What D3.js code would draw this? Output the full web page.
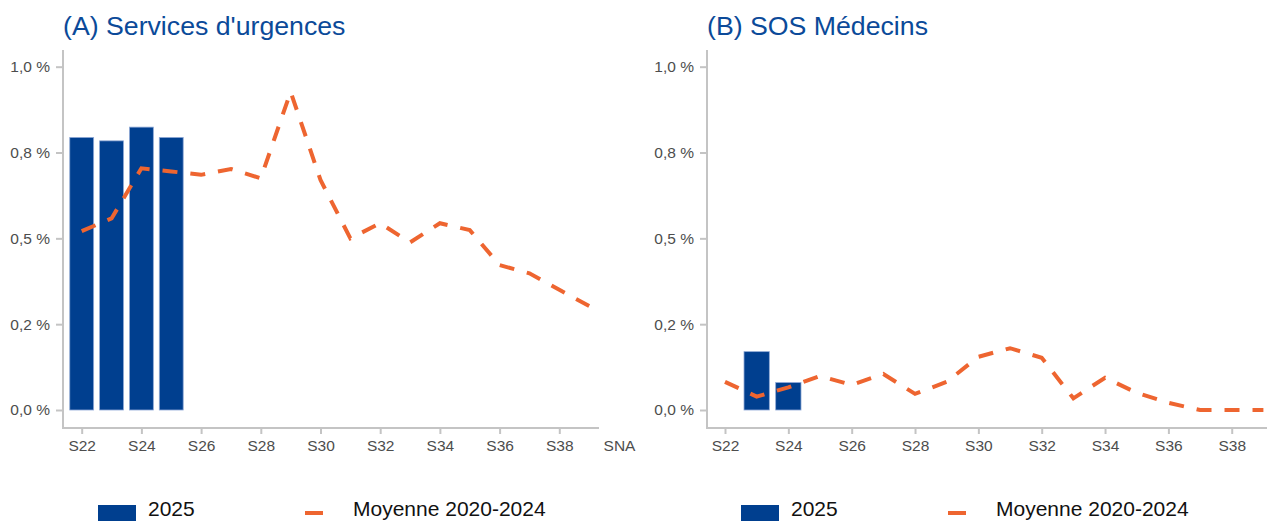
<!DOCTYPE html>
<html>
<head>
<meta charset="utf-8">
<script src="https://cdn.jsdelivr.net/npm/d3@7"></script>
<style>
  body { margin: 0; background: #fff; }
  svg { font-family: "Liberation Sans", Arial, sans-serif; }
</style>
</head>
<body>
<div id="chart"></div>
<script>
// weeks shown on the x axis
var weeks = ["S22","S23","S24","S25","S26","S27","S28","S29","S30",
             "S31","S32","S33","S34","S35","S36","S37","S38","S39"];
var weeksA = weeks.concat(["SNA"]);

// (A) Services d'urgences
var urgWeeks2025 = ["S22","S23","S24","S25"];
var urg2025 = [0.794, 0.784, 0.824, 0.794];
var urgMoyenne = [0.521, 0.558, 0.704, 0.695, 0.685, 0.702, 0.675, 0.927, 0.670,
                  0.500, 0.544, 0.488, 0.544, 0.524, 0.422, 0.398, 0.350, 0.303];

// (B) SOS Médecins
var sosWeeks2025 = ["S23","S24"];
var sos2025 = [0.170, 0.080];
var sosMoyenne = [0.082, 0.039, 0.066, 0.099, 0.073, 0.105, 0.047, 0.082, 0.155,
                  0.180, 0.152, 0.034, 0.094, 0.050, 0.021, 0.0, 0.0, 0.0];

var yTicks = [0, 0.25, 0.5, 0.75, 1];
var yTickLabels = ["0,0 %", "0,2 %", "0,5 %", "0,8 %", "1,0 %"];

var blue = "#003f8f";
var orange = "#ee6530";
var grey = "#c4c4c4";

var width = 1267, height = 521;
var svg = d3.select("#chart").append("svg")
    .attr("width", width)
    .attr("height", height);

var y = d3.scaleLinear().domain([0, 1]).range([410, 66.7]);

function drawPanel(p) {
  var g = svg.append("g");

  var x = d3.scalePoint()
      .domain(p.xDomain)
      .range(p.xRange);
  var step = x.step();

  // title
  g.append("text")
      .attr("x", p.axisX)
      .attr("y", 35)
      .attr("fill", "#0b4a99")
      .style("font-size", "26.7px")
      .text(p.title);

  // axis lines
  g.append("line")
      .attr("x1", p.axisX).attr("x2", p.axisX)
      .attr("y1", 50).attr("y2", 429)
      .attr("stroke", grey).attr("stroke-width", 2);
  g.append("line")
      .attr("x1", p.axisX - 1).attr("x2", p.axisEnd)
      .attr("y1", 428).attr("y2", 428)
      .attr("stroke", grey).attr("stroke-width", 2);

  // y axis
  var leftAxis = d3.axisLeft(y)
      .tickValues(yTicks)
      .tickFormat(function(d, i) { return yTickLabels[i]; })
      .tickSize(7)
      .tickPadding(6);
  var ya = g.append("g")
      .attr("transform", "translate(" + p.axisX + ",0)")
      .call(leftAxis);
  ya.select(".domain").remove();
  ya.selectAll("line").attr("stroke", grey).attr("stroke-width", 2);
  ya.selectAll("text")
      .attr("fill", "#4d4d4d")
      .style("font-size", "15.5px")
      .style("font-family", "Liberation Sans, Arial, sans-serif");

  // x axis
  var bottomAxis = d3.axisBottom(x)
      .tickValues(p.xDomain.filter(function(d, i) { return i % 2 === 0; }))
      .tickSize(6)
      .tickPadding(6);
  var xa = g.append("g")
      .attr("transform", "translate(0,428)")
      .call(bottomAxis);
  xa.select(".domain").remove();
  xa.selectAll("line").attr("stroke", grey).attr("stroke-width", 2);
  xa.selectAll(".tick")
      .filter(function(d) { return x(d) > p.axisEnd; })
      .select("line").remove();
  xa.selectAll("text")
      .attr("fill", "#4d4d4d")
      .style("font-size", "15.5px")
      .style("font-family", "Liberation Sans, Arial, sans-serif");

  // bars 2025
  var bw = step * 0.8;
  g.selectAll("rect.bar")
      .data(p.barWeeks)
      .enter()
      .append("rect")
      .attr("class", "bar")
      .attr("x", function(d) { return x(d) - bw / 2; })
      .attr("y", function(d, i) { return y(p.barValues[i]); })
      .attr("width", bw)
      .attr("height", function(d, i) { return y(0) - y(p.barValues[i]); })
      .attr("fill", blue)
      .attr("stroke", "#8fa9d6")
      .attr("stroke-width", 0.8);

  // moyenne line
  var line = d3.line()
      .x(function(d, i) { return x(weeks[i]); })
      .y(function(d) { return y(d); });
  g.append("path")
      .datum(p.lineValues)
      .attr("d", line)
      .attr("fill", "none")
      .attr("stroke", orange)
      .attr("stroke-width", 4)
      .attr("stroke-dasharray", "15,13");

  // legend
  var lx = p.legendX;
  g.append("rect")
      .attr("x", lx).attr("y", 505)
      .attr("width", 38).attr("height", 22)
      .attr("fill", blue);
  g.append("text")
      .attr("x", lx + 50).attr("y", 516)
      .style("font-size", "21px")
      .attr("fill", "#111")
      .text("2025");
  g.append("line")
      .attr("x1", lx + 207).attr("x2", lx + 225)
      .attr("y1", 513).attr("y2", 513)
      .attr("stroke", orange).attr("stroke-width", 4);
  g.append("text")
      .attr("x", lx + 255).attr("y", 516)
      .style("font-size", "21px")
      .attr("fill", "#111")
      .text("Moyenne 2020-2024");
}

drawPanel({
  title: "(A) Services d'urgences",
  xDomain: weeksA,
  xRange: [81.7, 619],
  axisX: 63,
  axisEnd: 599,
  barWeeks: urgWeeks2025,
  barValues: urg2025,
  lineValues: urgMoyenne,
  legendX: 98
});

drawPanel({
  title: "(B) SOS Médecins",
  xDomain: weeks,
  xRange: [725, 1263.4],
  axisX: 707,
  axisEnd: 1267,
  barWeeks: sosWeeks2025,
  barValues: sos2025,
  lineValues: sosMoyenne,
  legendX: 741
});
</script>
</body>
</html>
